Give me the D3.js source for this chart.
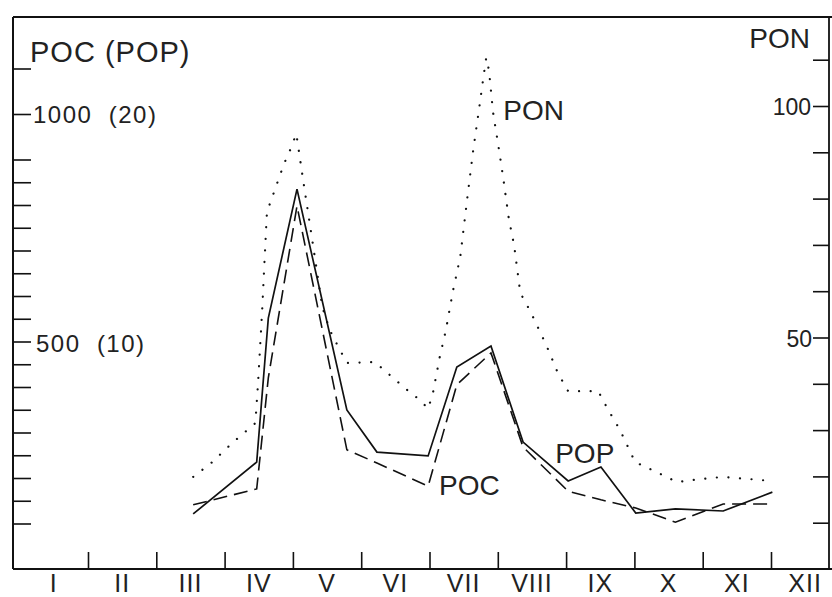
<!DOCTYPE html>
<html>
<head>
<meta charset="utf-8">
<script src="https://cdn.jsdelivr.net/npm/d3@7"></script>
<style>
  html, body { margin: 0; padding: 0; background: #fff; }
  svg { display: block; }
  text { font-family: "Liberation Sans", Arial, Helvetica, sans-serif; fill: #222; }
</style>
</head>
<body>
<svg id="chart" width="832" height="597"></svg>
<script>
// ---- Data ----
const monthLabels = ["I","II","III","IV","V","VI","VII","VIII","IX","X","XI","XII"];
// sampling dates in months from 1 January
const sampleMonths = [2.54, 3.47, 3.64, 4.06, 4.79, 5.23, 5.98, 6.40, 6.90, 7.37, 8.03, 8.51, 9.02, 9.60, 10.30, 11.02];
// POC (left axis, dashed)
const pocValues = [141, 176, 420, 798, 262, 233, 182, 405, 475, 268, 171, 152, 134, 103, 143, 143];
// POP (left axis in brackets, solid)
const popValues = [2.42, 4.70, 11.03, 16.70, 6.99, 5.14, 4.97, 8.88, 9.80, 5.58, 3.87, 4.48, 2.46, 2.64, 2.55, 3.38];
// PON (right axis, dotted)
const ponMonths = [2.54, 2.82, 3.11, 3.45, 3.49, 3.55, 3.58, 3.62, 3.74, 3.87, 3.96, 4.05, 4.15, 4.29, 4.43, 4.54, 4.65, 4.79,
  5.20, 5.45, 5.67, 5.86, 5.98, 6.05, 6.15, 6.24, 6.34, 6.45, 6.55, 6.64, 6.73, 6.78, 6.83, 6.87, 6.93, 7.02, 7.08, 7.16,
  7.24, 7.33, 7.41, 7.50, 7.66, 7.74, 7.88, 8.03, 8.47, 8.60, 8.79, 9.01, 9.33, 9.62, 9.96, 10.30, 11.02];
const ponValues = [19.9, 23.1, 27.2, 31.5, 40.2, 55.9, 65.2, 77.1, 82.1, 87.5, 90.5, 94.0, 84.0, 70.4, 56.6, 51.6, 48.4, 44.5,
  44.7, 41.5, 38.7, 36.5, 34.6, 38.0, 45.8, 51.6, 59.8, 67.4, 79.7, 90.5, 99.8, 105.2, 110.4, 107.8, 98.7, 90.3, 84.4, 75.8,
  69.8, 59.6, 57.5, 54.9, 49.9, 47.3, 42.3, 38.4, 38.4, 34.8, 30.0, 23.1, 20.9, 18.8, 19.4, 19.9, 19.0];
const leftTicks = [100,150,200,250,300,350,400,450,500,550,600,650,700,750,800,850,900,1000,1100];
const rightTicks = [10,20,30,40,50,60,70,80,90,100,110];
const monthTicks = [1,2,3,4,5,6,7,8,9,10,11];

// ---- Layout ----
const svg = d3.select("#chart");
const L = 13, R = 829, T = 17, B = 569;

const x = d3.scaleLinear().domain([0, 12]).range([19.7, 839.3]);
const yL = d3.scaleLinear().domain([0, 1000]).range([B, 114]);
const yP = d3.scaleLinear().domain([0, 20]).range([B, 114]);
const yR = d3.scaleLinear().domain([0, 100]).range([B, 106]);

// frame
svg.append("line").attr("x1", L).attr("x2", 832).attr("y1", T).attr("y2", T)
  .attr("stroke", "#111").attr("stroke-width", 1.8);
svg.append("line").attr("x1", L).attr("x2", 832).attr("y1", B).attr("y2", B)
  .attr("stroke", "#111").attr("stroke-width", 2);
svg.append("line").attr("x1", L).attr("x2", L).attr("y1", T).attr("y2", B)
  .attr("stroke", "#111").attr("stroke-width", 2);
svg.append("line").attr("x1", R).attr("x2", R).attr("y1", T).attr("y2", B)
  .attr("stroke", "#111").attr("stroke-width", 1.8);

// axes (ticks inward)
const gl = svg.append("g").attr("transform", `translate(${L},0)`)
  .call(d3.axisRight(yL).tickValues(leftTicks).tickSize(18).tickSizeOuter(0).tickFormat(""));
const gr = svg.append("g").attr("transform", `translate(${R},0)`)
  .call(d3.axisLeft(yR).tickValues(rightTicks).tickSize(16).tickSizeOuter(0).tickFormat(""));
const gb = svg.append("g").attr("transform", `translate(0,${B})`)
  .call(d3.axisTop(x).tickValues(monthTicks).tickSize(17).tickSizeOuter(0).tickFormat(""));
[gl, gr, gb].forEach(g => {
  g.select(".domain").remove();
  g.selectAll(".tick line").attr("stroke", "#111").attr("stroke-width", 1.6);
});

// left axis labels
svg.append("text").attr("x", 33).attr("y", yL(1000) + 9)
  .attr("font-size", 24).attr("letter-spacing", 1.5).attr("xml:space", "preserve")
  .text("1000  (20)");
svg.append("text").attr("x", 36).attr("y", yL(500) + 10)
  .attr("font-size", 24).attr("letter-spacing", 1.5).attr("xml:space", "preserve")
  .text("500  (10)");
svg.append("text").attr("x", 30).attr("y", 62)
  .attr("font-size", 29).attr("letter-spacing", 1).attr("xml:space", "preserve")
  .text("POC (POP)");

// right axis labels
svg.append("text").attr("x", 811).attr("y", yR(100) + 9).attr("text-anchor", "end")
  .attr("font-size", 23).text("100");
svg.append("text").attr("x", 812).attr("y", yR(50) + 9).attr("text-anchor", "end")
  .attr("font-size", 23).text("50");
svg.append("text").attr("x", 810).attr("y", 48).attr("text-anchor", "end")
  .attr("font-size", 28).text("PON");

// month labels
svg.selectAll(".mlab").data(monthLabels).enter().append("text")
  .attr("class", "mlab")
  .attr("x", (d, i) => x(i + 0.5)).attr("y", 592)
  .attr("text-anchor", "middle").attr("font-size", 25).attr("letter-spacing", 1)
  .text(d => d);

// series
const popLine = d3.line().x((d, i) => x(sampleMonths[i])).y(d => yP(d));
const pocLine = d3.line().x((d, i) => x(sampleMonths[i])).y(d => yL(d));
const ponLine = d3.line().x((d, i) => x(ponMonths[i])).y(d => yR(d));

svg.append("path").attr("d", ponLine(ponValues)).attr("fill", "none")
  .attr("stroke", "#111").attr("stroke-width", 2.2)
  .attr("stroke-linecap", "round").attr("stroke-dasharray", "0.1 11.5");
svg.append("path").attr("d", pocLine(pocValues)).attr("fill", "none")
  .attr("stroke", "#111").attr("stroke-width", 1.6)
  .attr("stroke-dasharray", "14 7");
svg.append("path").attr("d", popLine(popValues)).attr("fill", "none")
  .attr("stroke", "#111").attr("stroke-width", 1.7);

// series labels
svg.append("text").attr("x", x(6.14)).attr("y", yL(163)).attr("font-size", 28).text("POC");
svg.append("text").attr("x", x(7.84)).attr("y", yP(4.66)).attr("font-size", 28).text("POP");
svg.append("text").attr("x", x(7.08)).attr("y", yR(97)).attr("font-size", 28).text("PON");
</script>
</body>
</html>
